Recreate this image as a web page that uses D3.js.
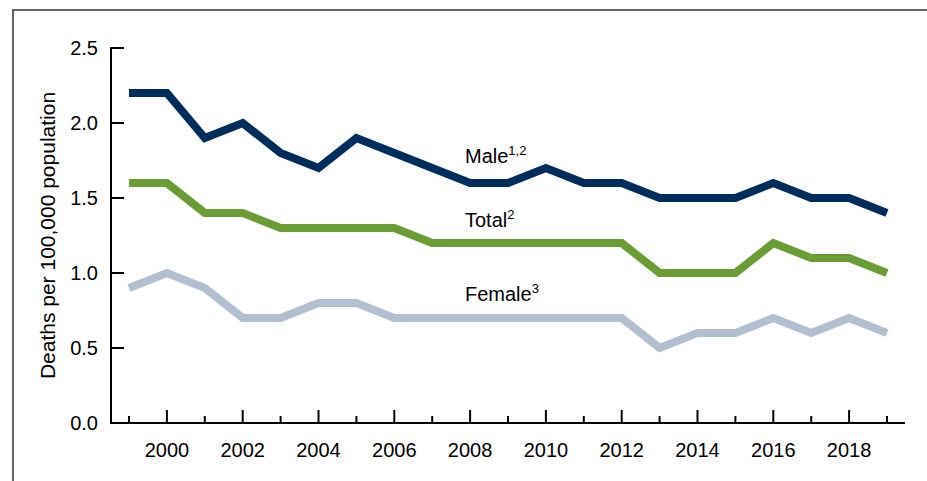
<!DOCTYPE html>
<html>
<head>
<meta charset="utf-8">
<script src="https://cdn.jsdelivr.net/npm/d3@7"></script>
<style>
  html, body { margin: 0; padding: 0; background: #fff; }
  svg { display: block; font-family: "Liberation Sans", Arial, sans-serif; }
</style>
</head>
<body>
<svg id="chart" width="927" height="481"></svg>
<script>
const years = [1999,2000,2001,2002,2003,2004,2005,2006,2007,2008,2009,2010,2011,2012,2013,2014,2015,2016,2017,2018,2019];
const male   = [2.2,2.2,1.9,2.0,1.8,1.7,1.9,1.8,1.7,1.6,1.6,1.7,1.6,1.6,1.5,1.5,1.5,1.6,1.5,1.5,1.4];
const total  = [1.6,1.6,1.4,1.4,1.3,1.3,1.3,1.3,1.2,1.2,1.2,1.2,1.2,1.2,1.0,1.0,1.0,1.2,1.1,1.1,1.0];
const female = [0.9,1.0,0.9,0.7,0.7,0.8,0.8,0.7,0.7,0.7,0.7,0.7,0.7,0.7,0.5,0.6,0.6,0.7,0.6,0.7,0.6];
const yTicks = [0.0,0.5,1.0,1.5,2.0,2.5];
const xLabelYears = [2000,2002,2004,2006,2008,2010,2012,2014,2016,2018];
const seriesNames = ["Male", "Total", "Female"];
const seriesSups = ["1,2", "2", "3"];
const yTitle = "Deaths per 100,000 population";

const svg = d3.select("#chart");

// frame
svg.append("path")
  .attr("d", "M13,481 L13,10 L927,10")
  .attr("fill", "none").attr("stroke", "#666").attr("stroke-width", 2);

const x = d3.scaleLinear().domain([1999, 2019]).range([129, 887]);
const y = d3.scaleLinear().domain([0, 2.5]).range([423, 48]);
const axisLeftX = 111;

// y axis
const gy = svg.append("g").attr("transform", `translate(${axisLeftX},0)`);
gy.append("line").attr("x1", 0).attr("x2", 0).attr("y1", y(2.5) - 1).attr("y2", y(0) + 1)
  .attr("stroke", "#000").attr("stroke-width", 2);
gy.selectAll("line.tick").data(yTicks).enter().append("line")
  .attr("class", "tick")
  .attr("x1", 0).attr("x2", 13)
  .attr("y1", d => y(d)).attr("y2", d => y(d))
  .attr("stroke", "#000").attr("stroke-width", 2);
gy.selectAll("text").data(yTicks).enter().append("text")
  .attr("x", -13).attr("y", d => y(d)).attr("dy", "0.35em")
  .attr("text-anchor", "end").attr("font-size", 20).attr("fill", "#000")
  .text(d => d3.format(".1f")(d));

// x axis
const gx = svg.append("g");
gx.append("line").attr("x1", axisLeftX - 1).attr("x2", 905).attr("y1", y(0)).attr("y2", y(0))
  .attr("stroke", "#000").attr("stroke-width", 2);
gx.selectAll("line.tick").data(years).enter().append("line")
  .attr("class", "tick")
  .attr("x1", d => x(d)).attr("x2", d => x(d))
  .attr("y1", y(0)).attr("y2", d => y(0) - (d % 2 === 0 ? 13 : 7))
  .attr("stroke", "#000").attr("stroke-width", 2);
gx.selectAll("text").data(xLabelYears).enter().append("text")
  .attr("x", d => x(d)).attr("y", 457)
  .attr("text-anchor", "middle").attr("font-size", 20).attr("fill", "#000")
  .text(d => d);

// y title
svg.append("text")
  .attr("transform", `translate(55,${(y(0)+y(2.5))/2}) rotate(-90)`)
  .attr("text-anchor", "middle").attr("font-size", 21).attr("fill", "#000")
  .text(yTitle);

// lines
const line = d3.line().x((d, i) => x(years[i])).y(d => y(d));
const data = [male, total, female];
const colors = ["#002d5c", "#6a9d33", "#b2bfd0"];
[2, 1, 0].forEach(i => {
  svg.append("path").datum(data[i])
    .attr("d", line)
    .attr("fill", "none").attr("stroke", colors[i]).attr("stroke-width", 8)
    .attr("stroke-linejoin", "miter").attr("stroke-linecap", "butt");
});

// labels
const labelY = [163, 227, 301];
seriesNames.forEach((n, i) => {
  const t = svg.append("text").attr("x", 465).attr("y", labelY[i])
    .attr("font-size", 20).attr("fill", "#000");
  t.append("tspan").text(n);
  t.append("tspan").attr("font-size", 13).attr("dy", -8).text(seriesSups[i]);
});
</script>
</body>
</html>
